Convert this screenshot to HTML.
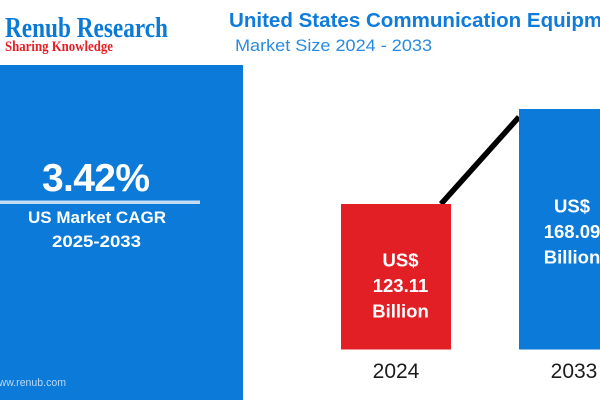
<!DOCTYPE html>
<html lang="en">
<head>
<meta charset="utf-8">
<title>United States Communication Equipment Market Size</title>
<style>
html,body{margin:0;padding:0;background:#fff;}
body{width:600px;height:400px;overflow:hidden;}
svg{display:block;font-family:"Liberation Sans",sans-serif;}
</style>
</head>
<body>
<svg id="chart" width="600" height="400" viewBox="0 0 600 400" xmlns="http://www.w3.org/2000/svg">
  <rect x="0" y="0" width="600" height="400" fill="#ffffff"/>
  <text x="5" y="37" font-family="'Liberation Serif',serif" font-weight="700" font-size="29" fill="#0b7ad6" textLength="163" lengthAdjust="spacingAndGlyphs">Renub Research</text>
  <text x="5" y="51" font-family="'Liberation Serif',serif" font-weight="700" font-size="15" fill="#e31f26" textLength="108" lengthAdjust="spacingAndGlyphs">Sharing Knowledge</text>
  <text x="229" y="27" font-weight="700" font-size="20" fill="#0f7bdb" textLength="404" lengthAdjust="spacingAndGlyphs">United States Communication Equipment</text>
  <text x="235" y="51" font-size="17" fill="#2a8ae0" textLength="197" lengthAdjust="spacingAndGlyphs">Market Size 2024 - 2033</text>

  <rect x="0" y="65" width="243" height="335" fill="#0b7ad8"/>
  <text x="42" y="191" font-weight="700" font-size="39" fill="#ffffff" textLength="108" lengthAdjust="spacing">3.42%</text>
  <rect x="0" y="200.5" width="200" height="3.5" fill="#c3dcf4"/>
  <text x="28" y="223" font-weight="700" font-size="17" fill="#ffffff" textLength="138" lengthAdjust="spacingAndGlyphs">US Market CAGR</text>
  <text x="52" y="247" font-weight="700" font-size="17" fill="#ffffff" textLength="89" lengthAdjust="spacingAndGlyphs">2025-2033</text>
  <text x="-9" y="386" font-size="11" fill="#b9d8f5" textLength="75" lengthAdjust="spacingAndGlyphs">www.renub.com</text>

  <g id="plot"></g>
</svg>
<script>
const categories = ['2024', '2033'];
const seriesValues = [123.11, 168.09];
const valueLines = [['US$', '123.11', 'Billion'], ['US$', '168.09', 'Billion']];
const barColors = ['#e31f26', '#0b7ad8'];

const NS = 'http://www.w3.org/2000/svg';
const plot = document.getElementById('plot');
const baselineY = 349.5;
const barWidth = 110;

function xScale(i) { return 396 + i * 178; }
function yScale(v) { return 204 + (123.11 - v) * (95 / 44.98); }

function addText(text, x, y, size, weight, fill) {
  const t = document.createElementNS(NS, 'text');
  t.setAttribute('x', x);
  t.setAttribute('y', y);
  t.setAttribute('text-anchor', 'middle');
  t.setAttribute('font-size', size);
  t.setAttribute('font-weight', weight);
  t.setAttribute('fill', fill);
  t.textContent = text;
  plot.appendChild(t);
  return t;
}

const trend = document.createElementNS(NS, 'line');


trend.setAttribute('x1', xScale(0) + 45);
trend.setAttribute('y1', yScale(seriesValues[0]));
trend.setAttribute('x2', xScale(1) - 55);
trend.setAttribute('y2', yScale(seriesValues[1]) + 8);
trend.setAttribute('stroke', '#000000');
trend.setAttribute('stroke-width', '5.5');
plot.appendChild(trend);

categories.forEach(function (cat, i) {
  const top = yScale(seriesValues[i]);
  const cx = xScale(i);

  const bar = document.createElementNS(NS, 'rect');
  
  
  bar.setAttribute('x', cx - barWidth / 2);
  bar.setAttribute('y', top);
  bar.setAttribute('width', barWidth);
  bar.setAttribute('height', baselineY - top);
  bar.setAttribute('fill', barColors[i]);
  plot.appendChild(bar);

  const firstLineY = top + (baselineY - top) * 0.43;
  const labelX = cx + 4.5 - 6.5 * i;
  valueLines[i].forEach(function (line, j) {
    const label = addText(line, labelX, firstLineY + j * 25.5, 18.5, 700, '#ffffff');
    
    
  });

  const tick = addText(cat, cx, 378, 21, 400, '#1c1c1c');
  
  
});
</script>
</body>
</html>
